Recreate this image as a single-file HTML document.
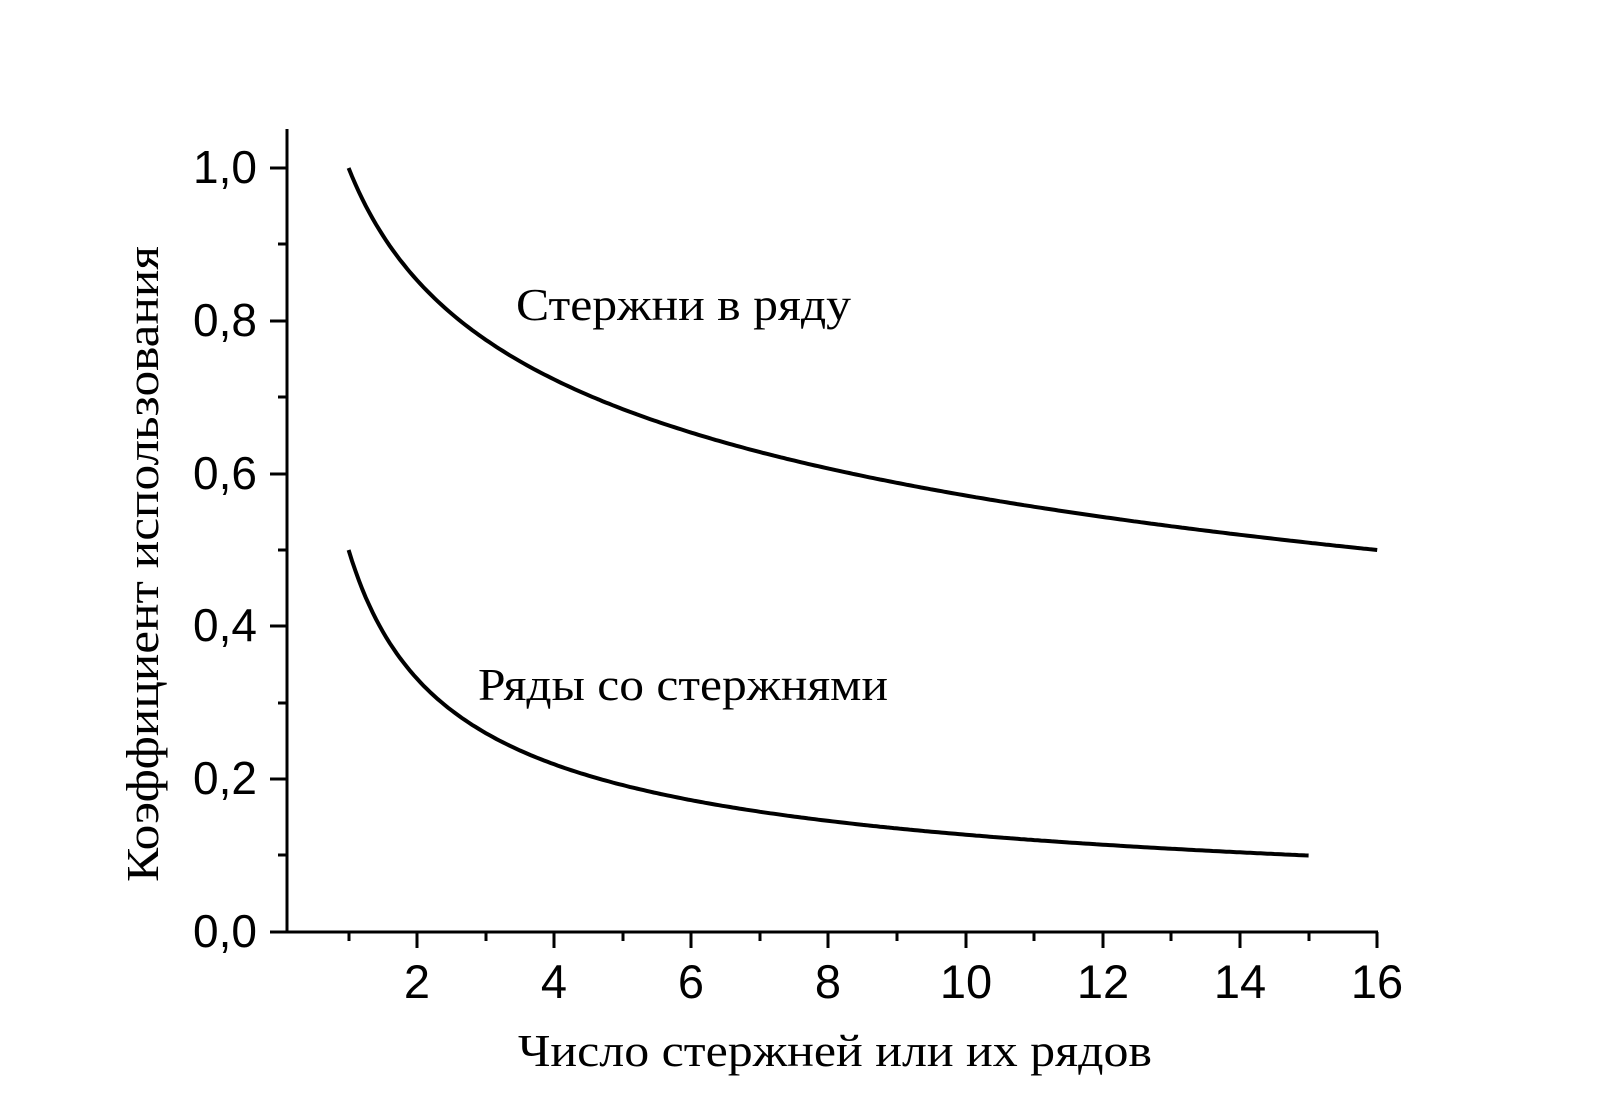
<!DOCTYPE html>
<html><head><meta charset="utf-8"><style>html,body{margin:0;padding:0;background:#fff}svg{display:block}</style></head>
<body>
<svg width="1600" height="1116" viewBox="0 0 1600 1116" xmlns="http://www.w3.org/2000/svg">
<rect width="1600" height="1116" fill="#fff"/>
<g stroke="#000" stroke-width="3" fill="none">
<line x1="287" y1="129" x2="287" y2="933"/>
<line x1="270" y1="932" x2="1378" y2="932"/>
<line x1="270" y1="932" x2="287" y2="932"/>
<line x1="270" y1="779" x2="287" y2="779"/>
<line x1="270" y1="626" x2="287" y2="626"/>
<line x1="270" y1="474" x2="287" y2="474"/>
<line x1="270" y1="321" x2="287" y2="321"/>
<line x1="270" y1="168" x2="287" y2="168"/>
<line x1="278" y1="855" x2="287" y2="855"/>
<line x1="278" y1="703" x2="287" y2="703"/>
<line x1="278" y1="550" x2="287" y2="550"/>
<line x1="278" y1="397" x2="287" y2="397"/>
<line x1="278" y1="244" x2="287" y2="244"/>
<line x1="417" y1="932" x2="417" y2="948"/>
<line x1="554" y1="932" x2="554" y2="948"/>
<line x1="691" y1="932" x2="691" y2="948"/>
<line x1="828" y1="932" x2="828" y2="948"/>
<line x1="966" y1="932" x2="966" y2="948"/>
<line x1="1103" y1="932" x2="1103" y2="948"/>
<line x1="1240" y1="932" x2="1240" y2="948"/>
<line x1="1377" y1="932" x2="1377" y2="948"/>
<line x1="349" y1="932" x2="349" y2="941"/>
<line x1="486" y1="932" x2="486" y2="941"/>
<line x1="623" y1="932" x2="623" y2="941"/>
<line x1="760" y1="932" x2="760" y2="941"/>
<line x1="897" y1="932" x2="897" y2="941"/>
<line x1="1034" y1="932" x2="1034" y2="941"/>
<line x1="1171" y1="932" x2="1171" y2="941"/>
<line x1="1309" y1="932" x2="1309" y2="941"/>
</g>
<g font-family="'Liberation Sans', sans-serif" font-size="46" fill="#000" text-anchor="end">
<text x="257" y="947">0,0</text>
<text x="257" y="794">0,2</text>
<text x="257" y="641">0,4</text>
<text x="257" y="489">0,6</text>
<text x="257" y="336">0,8</text>
<text x="257" y="183">1,0</text>
</g>
<g font-family="'Liberation Sans', sans-serif" font-size="47" fill="#000" text-anchor="middle">
<text x="417" y="998">2</text>
<text x="554" y="998">4</text>
<text x="691" y="998">6</text>
<text x="828" y="998">8</text>
<text x="966" y="998">10</text>
<text x="1103" y="998">12</text>
<text x="1240" y="998">14</text>
<text x="1377" y="998">16</text>
</g>
<g font-family="'Liberation Serif', 'Noto Serif CJK SC', serif" font-size="46" fill="#000">
<text x="516" y="320" textLength="335" lengthAdjust="spacingAndGlyphs">Стержни в ряду</text>
<text x="478" y="700" textLength="410" lengthAdjust="spacingAndGlyphs">Ряды со стержнями</text>
<text x="518" y="1066" textLength="634" lengthAdjust="spacingAndGlyphs">Число стержней или их рядов</text>
<text transform="translate(158,882) rotate(-90)" x="0" y="0" textLength="636" lengthAdjust="spacingAndGlyphs">Коэффициент использования</text>
</g>
<path id="c1" stroke="#000" stroke-width="4" fill="none" d=""/>
<path id="c2" stroke="#000" stroke-width="4" fill="none" d=""/>
<script>
function X(x){return 348.6+(x-1)*68.57;}
function Y(v){return 932-764*v;}
function mk(f,a,b){var s="";for(var x=a;x<=b+1e-9;x+=0.05){s+=(s?"L":"M")+X(x).toFixed(1)+","+Y(f(x)).toFixed(1);}return s;}
var L16=Math.log(16);
document.getElementById("c1").setAttribute("d",mk(function(x){var l=Math.log(x);return Math.pow(x,-0.25)+0.016*l*(L16-l)/((L16/2)*(L16/2));},1,16));
document.getElementById("c2").setAttribute("d",mk(function(x){return 0.5*Math.pow(x,-0.594);},1,15));
</script>
</svg>
</body></html>
